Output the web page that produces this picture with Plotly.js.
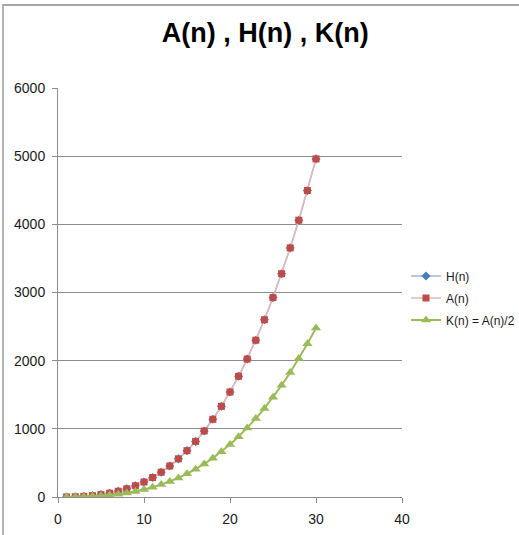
<!DOCTYPE html>
<html>
<head>
<meta charset="utf-8">
<script src="https://cdn.plot.ly/plotly-3.0.1.min.js"></script>
<style>
  html, body { margin: 0; padding: 0; background: #fff; }
  #wrap { position: relative; width: 519px; height: 535px; overflow: hidden; }
  #chart { position: absolute; left: 0; top: 0; width: 519px; height: 535px; }
  #frame { position: absolute; left: 2px; top: 4px; width: 600px; height: 600px;
           border-left: 2px solid #b4b4b4; border-top: 2px solid #a6a6a6; pointer-events: none; }
</style>
</head>
<body>
<div id="wrap">
  <div id="chart"></div>
  <div id="frame"></div>
</div>
<script>
// n values
const nValues = [1,2,3,4,5,6,7,8,9,10,11,12,13,14,15,16,17,18,19,20,21,22,23,24,25,26,27,28,29,30];
// H(n) values (coincide with A(n))
const hValues = [1,4,10,20,35,56,84,120,165,220,286,364,455,560,680,816,969,1140,1330,1540,1771,2024,2300,2600,2925,3276,3654,4060,4495,4960];
// A(n) values
const aValues = [1,4,10,20,35,56,84,120,165,220,286,364,455,560,680,816,969,1140,1330,1540,1771,2024,2300,2600,2925,3276,3654,4060,4495,4960];
// K(n) = A(n)/2 values
const kValues = [0.5,2,5,10,17.5,28,42,60,82.5,110,143,182,227.5,280,340,408,484.5,570,665,770,885.5,1012,1150,1300,1462.5,1638,1827,2030,2247.5,2480];
const seriesNames = ['H(n)', 'A(n)', 'K(n) = A(n)/2'];
const xTicks = [0, 10, 20, 30, 40];
const yTicks = [0, 1000, 2000, 3000, 4000, 5000, 6000];

const traces = [
  {
    x: nValues, y: hValues, name: seriesNames[0], legendgroup: 'h',
    type: 'scatter', mode: 'lines+markers',
    line: { color: '#9db7dc', width: 1.5 },
    marker: { symbol: 'diamond', size: 7, color: '#4a7ebb' }
  },
  {
    x: nValues, y: aValues, name: seriesNames[1], legendgroup: 'a',
    type: 'scatter', mode: 'lines+markers',
    line: { color: '#e2b8b8', width: 1.5 },
    marker: { symbol: 'square', size: 7, color: '#be4b48' }
  },
  {
    x: nValues, y: kValues, name: seriesNames[2], legendgroup: 'k',
    type: 'scatter', mode: 'lines+markers',
    line: { color: '#9bbb59', width: 2 },
    marker: { symbol: 'triangle-up', size: 9, color: '#9bbb59' }
  }
];

const tickFont = { family: 'Liberation Sans, Arial, sans-serif', size: 14, color: '#1a1a1a' };

const layout = {
  width: 519, height: 535,
  paper_bgcolor: '#ffffff', plot_bgcolor: '#ffffff',
  margin: { l: 58, r: 117, t: 88, b: 38, pad: 0, autoexpand: false },
  title: {
    text: '<b>A(n) , H(n) , K(n)</b>',
    font: { family: 'Liberation Sans, Arial, sans-serif', size: 27, color: '#000' },
    x: 0.511, xref: 'container', xanchor: 'center',
    y: 1 - 33 / 535, yref: 'container', yanchor: 'middle'
  },
  showlegend: true,
  legend: {
    x: 1.0116, xanchor: 'left', y: 0.4866, yanchor: 'middle',
    font: { family: 'Liberation Sans, Arial, sans-serif', size: 12, color: '#1a1a1a' },
    traceorder: 'grouped', tracegroupgap: 3, itemwidth: 30,
    bgcolor: 'rgba(0,0,0,0)', borderwidth: 0
  },
  xaxis: {
    range: [0, 40], tickvals: xTicks, ticktext: xTicks.map(String),
    showgrid: false, zeroline: false,
    showline: true, linecolor: '#8c8c8c', linewidth: 1,
    ticks: 'outside', ticklen: 5, tickcolor: '#8c8c8c',
    ticklabelstandoff: 4,
    tickfont: tickFont, fixedrange: true
  },
  yaxis: {
    range: [0, 6000], tickvals: yTicks, ticktext: yTicks.map(String),
    showgrid: true, gridcolor: '#8c8c8c', gridwidth: 1, zeroline: false,
    showline: true, linecolor: '#8c8c8c', linewidth: 1,
    ticks: 'outside', ticklen: 5, tickcolor: '#8c8c8c',
    ticklabelstandoff: 4,
    tickfont: tickFont, fixedrange: true
  }
};

Plotly.newPlot('chart', traces, layout, { displayModeBar: false, staticPlot: true });
</script>
</body>
</html>
